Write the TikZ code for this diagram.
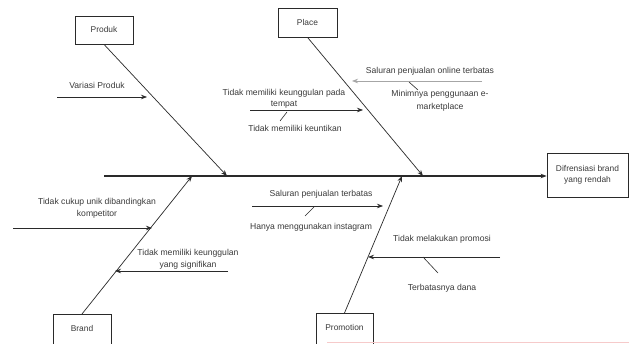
\documentclass[tikz,border=0pt]{standalone}
\usepackage{fontspec}
\setmainfont{Liberation Sans}
\usetikzlibrary{arrows.meta}
\definecolor{ink}{HTML}{2A2A2A}
\definecolor{txt}{HTML}{3A3A3A}
\definecolor{pinkline}{HTML}{F6CACA}
\tikzset{
  catbox/.style={draw=ink, line width=0.8pt, fill=white, minimum width=58pt, minimum height=28pt, inner sep=0pt, font=\fontsize{8.4}{10}\selectfont, text=txt},
  openbox/.style={draw=ink, line width=0.8pt, fill=white, anchor=north, minimum width=58pt, inner xsep=0pt, inner ysep=11pt, text height=6pt, text depth=24pt, font=\fontsize{8.4}{10}\selectfont, text=txt},
  lbl/.style={font=\fontsize{8.6}{11.5}\selectfont, text=txt, inner sep=0pt, align=center},
  bone/.style={draw=ink, line width=0.7pt, -{Stealth[length=6pt,width=4.5pt]}},
  subarrow/.style={draw=ink, line width=0.7pt, -{Stealth[length=6pt,width=4.5pt]}},
  lightarrow/.style={draw=gray!70, line width=0.7pt, -{Stealth[length=6pt,width=4.5pt]}},
  tick/.style={draw=ink, line width=0.6pt},
}
\begin{document}
\begin{tikzpicture}[x=1pt,y=-1pt]
\useasboundingbox (0,0) rectangle (629,344);
\fill[white] (0,0) rectangle (629,344);

% category boxes
\node[catbox] (produk) at (104,30) {Produk};
\node[catbox, minimum width=59pt, minimum height=29pt] (place) at (307.5,22.5) {Place};
\node[openbox] (brand) at (82,314) {Brand};
\node[openbox, minimum width=57pt] (promo) at (344.5,313) {Promotion};
\node[draw=ink, line width=0.8pt, minimum width=81pt, minimum height=44pt, inner sep=0pt, lbl, font=\fontsize{8.4}{11}\selectfont] (effect) at (587.5,175) {Difrensiasi brand\\yang rendah};

% spine
\coordinate (tail) at (104,176);
\draw[draw=ink, line width=1.2pt, -{Stealth[length=6pt,width=4.5pt]}] (tail) -- (effect.west |- tail);

% bones
\coordinate (jp) at (227,176);
\coordinate (jpl) at (423,176);
\coordinate (jb) at (192,176);
\coordinate (jpr) at (402,176);
\draw[bone] (produk.south) -- (jp);
\draw[bone] (place.south) -- (jpl);
\draw[bone] (brand.north) -- (jb);
\draw[bone] (promo.north) -- (jpr);

% Produk causes
\node[lbl] (variasi) at (97,85) {Variasi Produk};
\coordinate (v1) at (57,97); \coordinate (v2) at (147,97);
\draw[subarrow] (v1) -- (v2);

% Place causes
\node[lbl] (tempat) at (284,99) {Tidak memiliki keunggulan pada\\tempat};
\coordinate (t1) at (250,110); \coordinate (t2) at (363,110);
\draw[subarrow] (t1) -- (t2);
\node[lbl] (keuntikan) at (295,128) {Tidak memiliki keuntikan};
\coordinate (tk1) at (280,121); \coordinate (tk2) at (287,112);
\draw[tick] (tk1) -- (tk2);

\node[lbl] (online) at (430,71) {Saluran penjualan online terbatas};
\coordinate (o1) at (482,81); \coordinate (o2) at (352,81);
\draw[lightarrow] (o1) -- (o2);
\node[lbl, font=\fontsize{8.6}{13}\selectfont] (minim) at (440,100.5) {Minimnya penggunaan e-\\marketplace};
\coordinate (m1) at (409,82); \coordinate (m2) at (418,90);
\draw[tick] (m1) -- (m2);

% Brand causes
\node[lbl] (unik) at (97,208.5) {Tidak cukup unik dibandingkan\\kompetitor};
\coordinate (u1) at (13,228); \coordinate (u2) at (152,228);
\draw[subarrow] (u1) -- (u2);
\node[lbl] (signif) at (188,259.5) {Tidak memiliki keunggulan\\yang signifikan};
\coordinate (s1) at (228,271); \coordinate (s2) at (115,271);
\draw[subarrow] (s1) -- (s2);

% Promotion causes
\node[lbl] (saluran) at (321,194) {Saluran penjualan terbatas};
\coordinate (p1) at (252,206); \coordinate (p2) at (383,206);
\draw[subarrow] (p1) -- (p2);
\node[lbl] (insta) at (311,227) {Hanya menggunakan instagram};
\coordinate (i1) at (305,216); \coordinate (i2) at (314,207);
\draw[tick] (i1) -- (i2);

\node[lbl] (promosi) at (442,239) {Tidak melakukan promosi};
\coordinate (r1) at (500,257); \coordinate (r2) at (368,257);
\draw[subarrow] (r1) -- (r2);
\node[lbl] (dana) at (442,288) {Terbatasnya dana};
\coordinate (d1) at (423,257); \coordinate (d2) at (438,273);
\draw[tick] (d1) -- (d2);

% faint edge at the bottom
\coordinate (e1) at (327,343); \coordinate (e2) at (629,343);
\draw[pinkline, line width=1pt] (e1) -- (e2);
\end{tikzpicture}
\end{document}
